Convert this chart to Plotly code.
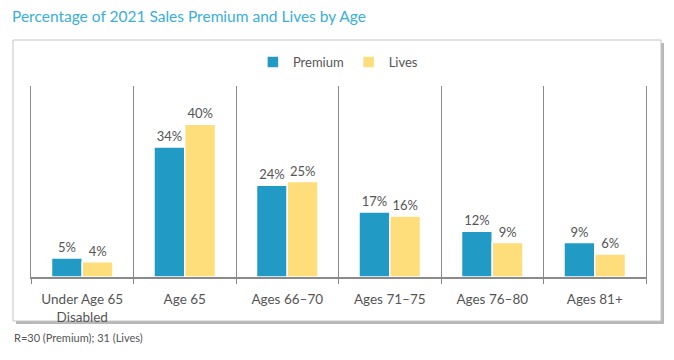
import plotly.graph_objects as go

categories = ["Under Age 65<br>Disabled", "Age 65", "Ages 66–70", "Ages 71–75", "Ages 76–80", "Ages 81+"]
premium = [5, 34, 24, 17, 12, 9]
lives = [4, 40, 25, 16, 9, 6]
title_text = "Percentage of 2021 Sales Premium and Lives by Age"
footer_text = "R=30 (Premium); 31 (Lives)"

FONT = "Lato"
GRAY = "#555555"

fig = go.Figure()
fig.add_trace(go.Bar(
    x=categories, y=premium, name="Premium",
    marker=dict(color="#229AC6", line=dict(color="white", width=1.5)),
    text=[f"{v}%" for v in premium], textposition="outside",
    textfont=dict(size=13, color=GRAY, family=FONT), cliponaxis=False,
))
fig.add_trace(go.Bar(
    x=categories, y=lives, name="Lives",
    marker=dict(color="#FEDD7B", line=dict(color="white", width=1.5)),
    text=[f"{v}%" for v in lives], textposition="outside",
    textfont=dict(size=13, color=GRAY, family=FONT), cliponaxis=False,
))

# panel shadow and panel
fig.add_shape(type="rect", xref="paper", yref="paper", layer="below",
              x0=-0.0244, x1=1.0293, y0=-0.2461, y1=1.2251,
              fillcolor="#B8B8B8", line=dict(width=0))
fig.add_shape(type="rect", xref="paper", yref="paper", layer="below",
              x0=-0.0293, x1=1.0244, y0=-0.2304, y1=1.2408,
              fillcolor="white", line=dict(color="#C4C4C4", width=1))

fig.update_layout(
    width=674, height=360,
    margin=dict(l=23, r=36, t=78, b=91, autoexpand=False),
    paper_bgcolor="white", plot_bgcolor="white",
    barmode="group", bargap=0.4, bargroupgap=0.0,
    font=dict(family=FONT, color=GRAY, size=13),
    title=dict(text=title_text, x=0.006, xanchor="left", y=0.975, yanchor="middle",
               font=dict(family=FONT, size=15.5, color="#3AAEDB")),
    legend=dict(orientation="h", x=0.499, xanchor="center", y=1.1257, yanchor="middle",
                font=dict(size=13, color=GRAY, family=FONT), itemwidth=30,
                traceorder="normal"),
    showlegend=True,
    annotations=[dict(text=footer_text, xref="paper", yref="paper", x=-0.0309, y=-0.319,
                      xanchor="left", yanchor="middle", showarrow=False,
                      font=dict(size=11, color=GRAY, family=FONT))],
)
fig.update_xaxes(
    tickson="boundaries", showgrid=True, gridcolor="#8A8A8A", gridwidth=1,
    ticks="outside", ticklen=5, tickcolor="#8A8A8A",
    showline=True, linecolor="#8A8A8A", linewidth=1.5,
    ticklabelstandoff=9,
    range=[-0.5, 5.5], tickfont=dict(size=13.5, color=GRAY, family=FONT),
)
fig.update_yaxes(range=[0, 50], showgrid=False, showticklabels=False, zeroline=False,
                 showline=True, mirror=True, linecolor="#8A8A8A", linewidth=1)

fig.write_html("out.html")
